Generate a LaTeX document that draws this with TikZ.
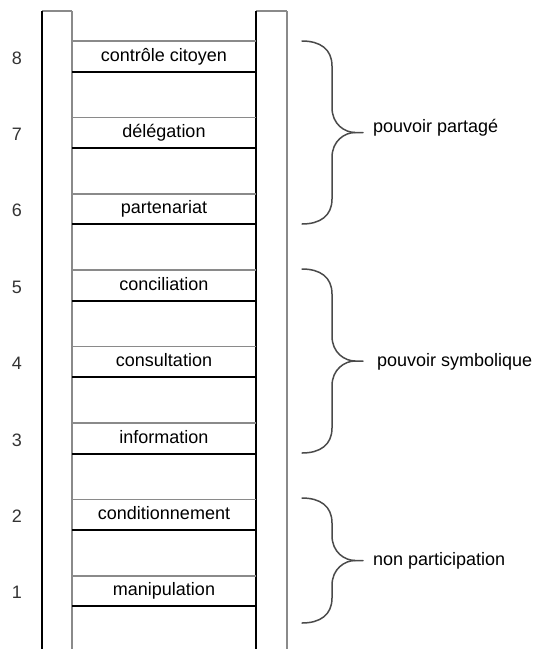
\documentclass[tikz,border=0pt]{standalone}
\usepackage{fontspec}
\setmainfont{Liberation Sans}
\definecolor{railgray}{HTML}{8A8A8A}
\definecolor{bracegray}{HTML}{4A4A4A}
\definecolor{numgray}{HTML}{333333}
\begin{document}
\begin{tikzpicture}[x=1pt,y=-1pt,
  darkline/.style={line width=2pt,black},
  grayline/.style={line width=1.6pt,railgray},
  rungtext/.style={anchor=base,inner sep=0pt,font=\fontsize{18}{20}\selectfont},
  numtext/.style={anchor=base,inner sep=0pt,text=numgray,font=\fontsize{18}{20}\selectfont},
  bracetext/.style={anchor=base west,inner sep=0pt,font=\fontsize{18}{20}\selectfont},
  bracepath/.style={line width=1.5pt,bracegray,line cap=round}]
\useasboundingbox (0,0) rectangle (538,649);
% rails
\coordinate (LT1) at (42,11); \coordinate (LT2) at (72,11);
\coordinate (RT1) at (256,11); \coordinate (RT2) at (287,11);
\coordinate (LB1) at (42,649); \coordinate (LB2) at (72,649);
\coordinate (RB1) at (256,649); \coordinate (RB2) at (287,649);
\draw[grayline] (LT1) -- (LT2);
\draw[grayline] (RT1) -- (RT2);
\draw[grayline] (LT2) -- (LB2);
\draw[grayline] (RT2) -- (RB2);
\draw[darkline] (LT1) -- (LB1);
\draw[darkline] (RT1) -- (RB1);
% rungs
\foreach \k/\lab in {8/{contrôle citoyen},7/{délégation},6/{partenariat},5/{conciliation},4/{consultation},3/{information},2/{conditionnement},1/{manipulation}}{
  \pgfmathsetmacro{\yg}{41+76.4*(8-\k)}
  \pgfmathsetmacro{\yb}{\yg+30.5}
  \coordinate (g\k a) at (72,\yg); \coordinate (g\k b) at (256,\yg);
  \coordinate (b\k a) at (72,\yb); \coordinate (b\k b) at (256,\yb);
  \draw[grayline] (g\k a) -- (g\k b);
  \draw[darkline] (b\k a) -- (b\k b);
  \node[rungtext] (r\k) at (164,\yg+20) {\lab};
  \node[numtext] (n\k) at (17,\yg+23) {\k};
}
% braces
\foreach \name/\top/\bot/\dy/\lx/\lab in {A/41/224/0/373/{pouvoir partagé},B/269/453/5/377/{pouvoir symbolique},C/498/623/5/373/{non participation}}{
  \pgfmathsetmacro{\mid}{(\top+\bot)/2}
  \coordinate (\name s) at (302,\top);
  \coordinate (\name e) at (302,\bot);
  \coordinate (\name t) at (363,\mid);
  \draw[bracepath] (\name s) .. controls (320,\top) and (332,\top+8) .. (332,\top+25)
     -- (332,\mid-25) .. controls (332,\mid-8) and (345,\mid) .. (355,\mid) -- (\name t);
  \draw[bracepath] (\name e) .. controls (320,\bot) and (332,\bot-8) .. (332,\bot-25)
     -- (332,\mid+25) .. controls (332,\mid+8) and (345,\mid) .. (355,\mid);
  \node[bracetext] (\name l) at (\lx,\mid+\dy) {\lab};
}
\end{tikzpicture}
\end{document}
